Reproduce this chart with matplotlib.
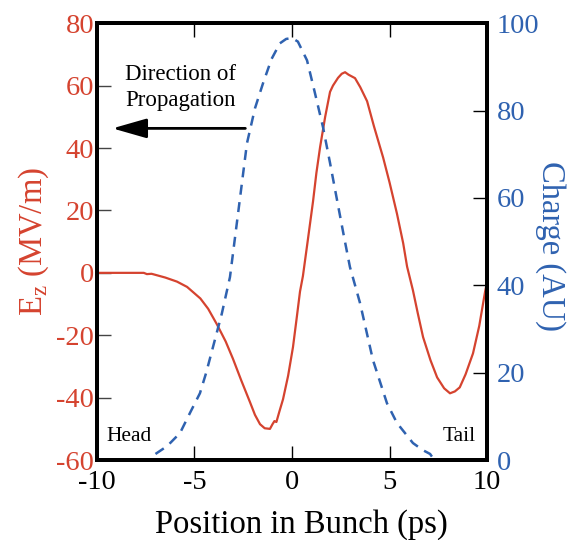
import matplotlib.pyplot as plt
import numpy as np

plt.rcParams['font.family'] = ['Liberation Serif', 'DejaVu Serif']
plt.rcParams['mathtext.fontset'] = 'custom'
plt.rcParams['mathtext.rm'] = 'Liberation Serif'
plt.rcParams['axes.unicode_minus'] = False

# Wakefield Ez (MV/m) along the bunch
ez_pos = [-10, -8.5, -7.6, -7.44, -7.2, -6.5, -5.9, -5.38, -4.7, -4.3, -3.85, -3.4, -3.03,
          -2.6, -2.15, -1.9, -1.64, -1.4, -1.13, -1.0, -0.9, -0.8, -0.65, -0.46, -0.2,
          0.05, 0.25, 0.41, 0.56, 0.8, 1.08, 1.25, 1.44, 1.7, 1.95, 2.1, 2.36, 2.55, 2.72,
          2.9, 3.23, 3.5, 3.85, 4.2, 4.67, 5.0, 5.38, 5.7, 5.9, 6.2, 6.45, 6.72, 7.1,
          7.44, 7.8, 8.1, 8.35, 8.6, 8.9, 9.28, 9.6, 9.9, 10]
ez_val = [0, 0, 0, -0.4, -0.3, -1.5, -2.8, -4.5, -8.2, -11.5, -16.5, -22, -27.5,
          -34.5, -41.5, -45.5, -48.5, -49.8, -50, -48.5, -47.5, -47.8, -44.5, -40.5, -33,
          -23.8, -14, -6, -1, 10, 23, 32, 40.3, 50, 58.0, 60, 62.5, 63.8, 64.3,
          63.5, 62.4, 59.5, 55, 47, 37, 29, 19, 9.5, 2.0, -5.6, -13, -20.6, -28,
          -33.5, -37, -38.6, -38, -36.7, -32.5, -25.8, -17, -6, -3]

# Bunch charge profile (AU)
q_pos = [-7.0, -6.4, -5.74, -5.23, -4.72, -4.4, -4.05, -3.6, -3.18, -2.75, -2.31, -1.9,
         -1.49, -1.05, -0.62, -0.3, 0.0, 0.3, 0.77, 1.15, 1.59, 1.95, 2.31, 2.65, 2.97,
         3.49, 4.15, 4.87, 5.38, 6.2, 6.7, 7.08, 7.25]
q_val = [1.4, 3.2, 6.2, 10.8, 15.3, 20.0, 25.9, 33.5, 41.9, 57.0, 72.5, 80.5,
         86.2, 91.8, 95.4, 96.4, 96.6, 95.8, 91.5, 84.5, 76.2, 68.0, 59.5, 51.5, 44.2,
         35.9, 22.9, 13.0, 8.5, 3.9, 2.3, 1.4, 0.3]

red = '#d5432f'
blue = '#2f62b0'

fig = plt.figure(figsize=(5.67, 5.4), dpi=100)
ax = fig.add_axes([0.171, 0.148, 0.688, 0.809])
ax2 = ax.twinx()

ax.plot(ez_pos, ez_val, color=red, lw=1.6)
ax2.plot(q_pos, q_val, color=blue, lw=1.8, ls=(0, (4, 3)))

ax.set_xlim(-10, 10)
ax.set_ylim(-60, 80)
ax2.set_ylim(0, 100)
ax.set_xticks([-10, -5, 0, 5, 10])
ax.set_yticks(np.arange(-60, 81, 20))
ax2.set_yticks(np.arange(0, 101, 20))

for a in (ax, ax2):
    for s in a.spines.values():
        s.set_linewidth(2.8)
ax.tick_params(axis='x', direction='in', top=True, length=10, width=1, labelsize=20.5, pad=7)
ax.tick_params(axis='y', direction='in', length=10, width=1, labelsize=20.5,
               labelcolor=red, color='#444444', pad=2)
ax2.tick_params(axis='y', direction='in', length=10, width=1, labelsize=20.5,
                labelcolor=blue, pad=7)

ax.set_xlabel('Position in Bunch (ps)', fontsize=23.5)
ax.xaxis.set_label_coords(0.523, -0.113)
ax.set_ylabel('E$_\\mathregular{z}$ (MV/m)', fontsize=23.5, color=red, labelpad=4)
ax2.set_ylabel('Charge (AU)', fontsize=23.5, color=blue, rotation=270,
               va='center', ha='center')
ax2.yaxis.set_label_coords(1.163, 0.49)

ax.annotate('', xy=(-9.35, 46.3), xytext=(-2.25, 46.3),
            arrowprops=dict(arrowstyle='-|>, head_length=2.1, head_width=0.6',
                            lw=2, color='black'))
ax.text(-8.56, 59.5, 'Direction of\nPropagation', fontsize=16.5, ha='left', va='center',
        linespacing=1.3)
ax.text(-9.5, -52.5, 'Head', fontsize=15.5, ha='left', va='center')
ax.text(9.4, -52.5, 'Tail', fontsize=15.5, ha='right', va='center')

fig.savefig('out.png', dpi=100)
